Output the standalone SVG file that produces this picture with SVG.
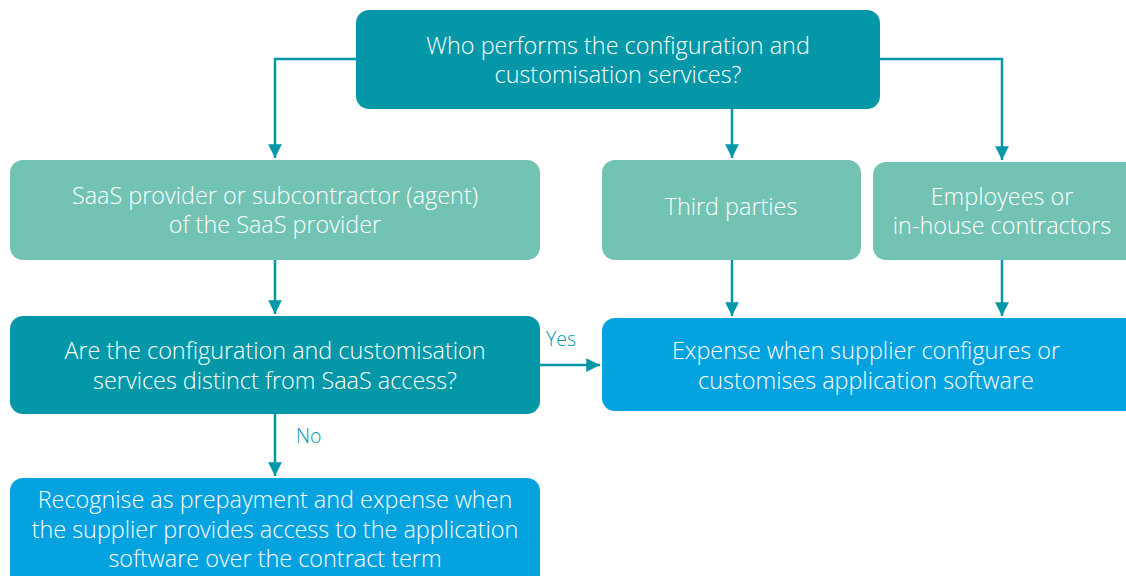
<svg xmlns="http://www.w3.org/2000/svg" width="1126" height="576" viewBox="0 0 1126 576">
  <defs>
    <marker id="arrow" viewBox="0 0 10 10" refX="10" refY="5" markerWidth="5.5" markerHeight="5.5" markerUnits="strokeWidth" orient="auto">
      <path d="M0,0 L10,5 L0,10 z" fill="#0397a7"/>
    </marker>
    <style>
      .q { fill: #0397a7; }
      .who { fill: #72c3b4; }
      .out { fill: #04a2df; }
      .t { font-family: "Open Sans", "Noto Sans", sans-serif; font-size: 23.4px; font-weight: 300; fill: #ffffff; text-anchor: middle; }
      .lbl { font-family: "Open Sans", "Noto Sans", sans-serif; font-size: 19.5px; font-weight: 300; fill: #0397a7; }
      .c { fill: none; stroke: #0397a7; stroke-width: 2.5; }
    </style>
  </defs>
  <rect width="1126" height="576" fill="#ffffff"/>

  <g id="connectors">
    <path class="c" d="M356,59 H275 V158" marker-end="url(#arrow)"/>
    <path class="c" d="M732,109 V158" marker-end="url(#arrow)"/>
    <path class="c" d="M880,59 H1002 V160" marker-end="url(#arrow)"/>
    <path class="c" d="M275,260 V314" marker-end="url(#arrow)"/>
    <path class="c" d="M732,260 V316" marker-end="url(#arrow)"/>
    <path class="c" d="M1002,260 V316" marker-end="url(#arrow)"/>
    <path class="c" d="M540,365 H600" marker-end="url(#arrow)"/>
    <path class="c" d="M275,414 V476" marker-end="url(#arrow)"/>
    <text class="lbl" x="546" y="346">Yes</text>
    <text class="lbl" x="296" y="443">No</text>
  </g>

  <g id="who-performs">
    <rect class="q" x="356" y="10" width="524" height="99" rx="13"/>
    <text class="t" x="618" y="54">Who performs the configuration and</text>
    <text class="t" x="618" y="83">customisation services?</text>
  </g>

  <g id="saas-provider">
    <rect class="who" x="10" y="160" width="530" height="100" rx="13"/>
    <text class="t" x="275" y="204">SaaS provider or subcontractor (agent)</text>
    <text class="t" x="275" y="233">of the SaaS provider</text>
  </g>

  <g id="third-parties">
    <rect class="who" x="602" y="160" width="259" height="100" rx="13"/>
    <text class="t" x="731" y="215">Third parties</text>
  </g>

  <g id="employees">
    <rect class="who" x="873" y="162" width="265" height="98" rx="13"/>
    <text class="t" x="1002" y="205">Employees or</text>
    <text class="t" x="1002" y="234">in-house contractors</text>
  </g>

  <g id="distinct">
    <rect class="q" x="10" y="316" width="530" height="98" rx="13"/>
    <text class="t" x="275" y="359">Are the configuration and customisation</text>
    <text class="t" x="275" y="389">services distinct from SaaS access?</text>
  </g>

  <g id="expense">
    <rect class="out" x="602" y="318" width="536" height="93" rx="13"/>
    <text class="t" x="866" y="359">Expense when supplier configures or</text>
    <text class="t" x="866" y="389">customises application software</text>
  </g>

  <g id="prepayment">
    <rect class="out" x="10" y="478" width="530" height="110" rx="13"/>
    <text class="t" x="275" y="508">Recognise as prepayment and expense when</text>
    <text class="t" x="275" y="538">the supplier provides access to the application</text>
    <text class="t" x="275" y="567">software over the contract term</text>
  </g>
</svg>
